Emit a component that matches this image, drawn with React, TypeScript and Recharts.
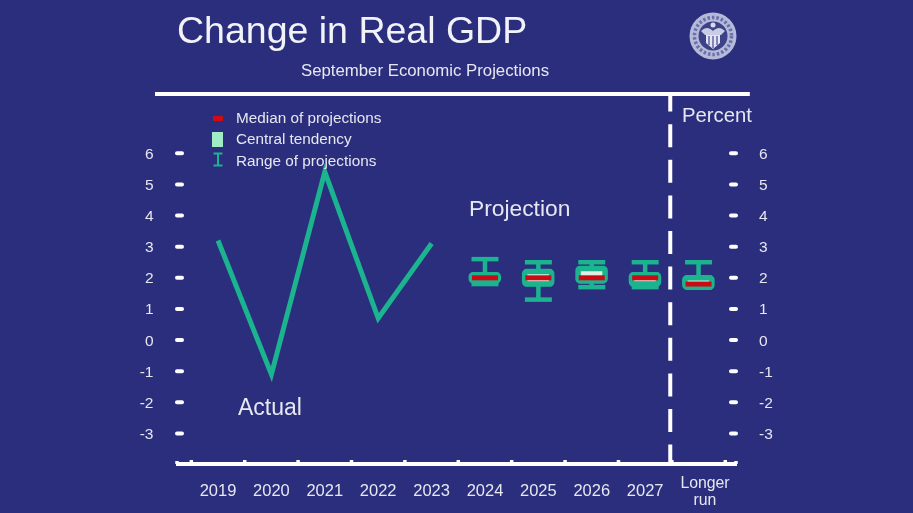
import React from "react";
import { ComposedChart, Line, Bar, Scatter, ErrorBar, XAxis, YAxis, ReferenceLine } from "recharts";

const categories = ["2019", "2020", "2021", "2022", "2023", "2024", "2025", "2026", "2027", "Longer run"];
const actual = [3.2, -1.1, 5.4, 0.7, 3.1, null, null, null, null, null];
const median = [null, null, null, null, null, 2.0, 2.0, 2.0, 2.0, 1.8];
const centralLow = [null, null, null, null, null, 1.9, 1.8, 1.9, 1.8, 1.7];
const centralHigh = [null, null, null, null, null, 2.1, 2.2, 2.3, 2.1, 2.0];
const rangeLow = [null, null, null, null, null, 1.8, 1.3, 1.7, 1.7, 1.7];
const rangeHigh = [null, null, null, null, null, 2.6, 2.5, 2.5, 2.5, 2.5];
const yTicks = [-3, -2, -1, 0, 1, 2, 3, 4, 5, 6];
const legendItems = ["Median of projections", "Central tendency", "Range of projections"];

const data = categories.map((name, i) => ({
  i,
  name,
  actual: actual[i],
  median: median[i],
  central: centralLow[i] == null ? null : [centralLow[i], centralHigh[i]],
  ctLow: centralLow[i],
  ctHigh: centralHigh[i],
  upperErr: median[i] == null ? null : [0, rangeHigh[i]! - centralHigh[i]!],
  lowerErr: median[i] == null ? null : [centralLow[i]! - rangeLow[i]!, 0],
}));

const BG = "#2a2e7d";
const TEAL = "#1cb48f";
const FG = "#e6e7f1";
const FONT = "'Liberation Sans', Arial, sans-serif";

const LeftTick = ({ y, payload }: any) => (
  <g>
    <line x1={177} x2={182} y1={y} y2={y} stroke="#fff" strokeWidth={4} strokeLinecap="round" />
    <text x={153.5} y={y + 5.5} textAnchor="end" fontSize={15.5} fill={FG} fontFamily={FONT}>{payload.value}</text>
  </g>
);
const RightTick = ({ y, payload }: any) => (
  <g>
    <line x1={731} x2={736} y1={y} y2={y} stroke="#fff" strokeWidth={4} strokeLinecap="round" />
    <text x={759} y={y + 5.5} textAnchor="start" fontSize={15.5} fill={FG} fontFamily={FONT}>{payload.value}</text>
  </g>
);
const XTick = ({ x, payload }: any) => {
  const label = categories[payload.value];
  const bump = <line x1={x - 26.7} x2={x - 26.7} y1={460} y2={464} stroke="#fff" strokeWidth={3.5} />;
  if (label === "Longer run") {
    return (
      <g>
        {bump}
        <line x1={x + 26.7} x2={x + 26.7} y1={460} y2={464} stroke="#fff" strokeWidth={3.5} />
        <line x1={736} x2={736} y1={461} y2={464} stroke="#fff" strokeWidth={3.5} />
        <text textAnchor="middle" fontSize={15.8} fill={FG} fontFamily={FONT}>
          <tspan x={705} y={488}>Longer</tspan>
          <tspan x={705} y={505}>run</tspan>
        </text>
      </g>
    );
  }
  return (
    <g>
      {bump}
      {payload.value === 0 && <line x1={177} x2={177} y1={461} y2={464} stroke="#fff" strokeWidth={3.5} />}
      <text x={x} y={496} textAnchor="middle" fontSize={16.5} fill={FG} fontFamily={FONT}>{label}</text>
    </g>
  );
};

const MedianMark = ({ cx, cy }: any) =>
  cx == null || cy == null ? null : <rect x={cx - 13} y={cy - 2.5} width={26} height={5} fill="#cc0a14" />;

const LegendBox = () => (
  <div style={{ position: "absolute", left: 0, top: 0, width: 913, height: 513, pointerEvents: "none" }}>
    {legendItems.map((t, k) => (
      <div key={t} style={{ position: "absolute", left: 236, top: 109 + k * 21.3, fontSize: 15.3, color: FG, fontFamily: FONT, lineHeight: "18px", whiteSpace: "nowrap" }}>{t}</div>
    ))}
    <div style={{ position: "absolute", left: 213, top: 116, width: 10, height: 5, background: "#d40a12", borderRadius: 1 }} />
    <div style={{ position: "absolute", left: 212, top: 132, width: 11, height: 15, background: "#9fecc6" }} />
    <svg style={{ position: "absolute", left: 210, top: 152 }} width={16} height={16}>
      <path d="M3.5 1.5H12.5M8 1.5V13.5M3.5 13.5H12.5" stroke={TEAL} strokeWidth={2} fill="none" />
    </svg>
  </div>
);

const Seal = () => (
  <svg style={{ position: "absolute", left: 688, top: 11, filter: "blur(0.5px)" }} width={50} height={50} viewBox="0 0 50 50">
    <circle cx={25} cy={25} r={23.5} fill="#b4bad8" />
    <circle cx={25} cy={25} r={18.5} fill="none" stroke="#6a70aa" strokeWidth={3.5} strokeDasharray="2.5 2" />
    <circle cx={25} cy={25} r={14.5} fill="#3c4188" />
    <path d="M13 20 C18 15 22 17 25 20 C28 17 32 15 37 20 L33 24 H17Z" fill="#c9cde4" />
    <path d="M18 24H32V32L25 38L18 32Z" fill="#e3e5f2" />
    <path d="M21 25V34M25 25V37M29 25V34" stroke="#5a60a0" strokeWidth={1.4} />
    <circle cx={25} cy={14} r={2.5} fill="#d8dbec" />
  </svg>
);

export default function App() {
  return (
    <div style={{ position: "fixed", left: 0, top: 0, width: 913, height: 513, background: BG, overflow: "hidden", filter: "blur(0.4px)" }}>
      <div style={{ position: "absolute", left: 177, top: 9, fontSize: 37.5, color: "#f2f3f9", fontFamily: FONT, lineHeight: "42px", whiteSpace: "nowrap" }}>Change in Real GDP</div>
      <div style={{ position: "absolute", left: 225, width: 400, top: 62, textAlign: "center", fontSize: 16.8, color: FG, fontFamily: FONT, lineHeight: "18px" }}>September Economic Projections</div>
      <div style={{ position: "absolute", left: 682, top: 104, fontSize: 20.3, color: FG, fontFamily: FONT, lineHeight: "23px" }}>Percent</div>
      <div style={{ position: "absolute", left: 469, top: 196, fontSize: 22.8, color: FG, fontFamily: FONT, lineHeight: "25px" }}>Projection</div>
      <div style={{ position: "absolute", left: 238, top: 395, fontSize: 23, color: FG, fontFamily: FONT, lineHeight: "25px" }}>Actual</div>
      <Seal />
      <ComposedChart
        width={913}
        height={513}
        data={data}
        margin={{ top: 91, right: 146, bottom: 19, left: 146 }}
        style={{ position: "absolute", left: 0, top: 0 }}
      >
        <XAxis
          dataKey="i"
          type="number"
          domain={[-0.787, 9.72]}
          ticks={[0, 1, 2, 3, 4, 5, 6, 7, 8, 9]}
          allowDataOverflow
          height={30}
          axisLine={{ stroke: "#fff", strokeWidth: 4 }}
          tickLine={false}
          tick={<XTick />}
          interval={0}
        />
        <YAxis yAxisId="left" orientation="left" width={30} domain={[-3.98, 8]} ticks={yTicks} axisLine={false} tickLine={false} tick={<LeftTick />} interval={0} allowDataOverflow />
        <YAxis yAxisId="right" orientation="right" width={30} domain={[-3.98, 8]} ticks={yTicks} axisLine={false} tickLine={false} tick={<RightTick />} interval={0} allowDataOverflow />
        <Bar yAxisId="left" dataKey="central" barSize={27} fill="#dcefe0" stroke={TEAL} strokeWidth={5.5} radius={2} isAnimationActive={false} />
        <Line yAxisId="right" dataKey="ctHigh" stroke="none" dot={false} isAnimationActive={false} legendType="none">
          <ErrorBar dataKey="upperErr" direction="y" width={13.5} strokeWidth={4.5} stroke={TEAL} isAnimationActive={false} />
        </Line>
        <Line yAxisId="right" dataKey="ctLow" stroke="none" dot={false} isAnimationActive={false} legendType="none">
          <ErrorBar dataKey="lowerErr" direction="y" width={13.5} strokeWidth={4.5} stroke={TEAL} isAnimationActive={false} />
        </Line>
        <Scatter yAxisId="left" dataKey="median" fill="#cc0a14" shape={<MedianMark />} isAnimationActive={false} />
        <Line yAxisId="left" dataKey="actual" stroke={TEAL} strokeWidth={5} dot={false} connectNulls={false} isAnimationActive={false} />
        <ReferenceLine yAxisId="left" segment={[{ x: 8.47, y: 7.9 }, { x: 8.47, y: -3.98 }]} stroke="#fff" strokeWidth={4} strokeDasharray="23 12.6" strokeDashoffset={5.5} ifOverflow="visible" />
        <ReferenceLine yAxisId="left" segment={[{ x: -1.18, y: 7.9 }, { x: 9.96, y: 7.9 }]} stroke="#fff" strokeWidth={4} ifOverflow="visible" />
      </ComposedChart>
      <LegendBox />
    </div>
  );
}
